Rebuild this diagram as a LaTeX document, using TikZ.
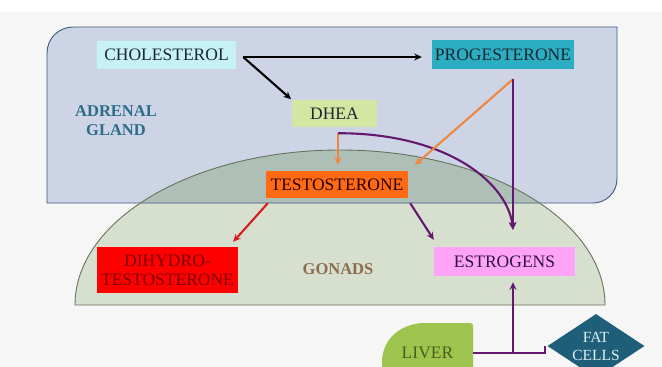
\documentclass[tikz,border=0pt]{standalone}
\usepackage{fontspec}
\setmainfont{Liberation Serif}
\usetikzlibrary{shapes.geometric,arrows.meta}
\definecolor{bgc}{HTML}{F6F6F6}
\definecolor{adrfill}{HTML}{CCD4E6}
\definecolor{adrline}{HTML}{3D5C82}
\definecolor{domefill}{HTML}{D7E0CF}
\definecolor{domeline}{HTML}{66745A}
\definecolor{overlapc}{HTML}{ADBFB7}
\definecolor{cholc}{HTML}{C6F1F6}
\definecolor{progc}{HTML}{2BAEC1}
\definecolor{dheac}{HTML}{D5E6A2}
\definecolor{testoc}{HTML}{FF6A12}
\definecolor{estroc}{HTML}{FFA3F7}
\definecolor{liverc}{HTML}{9DC44C}
\definecolor{fatc}{HTML}{1E5E78}
\definecolor{darktxt}{HTML}{1C2630}
\definecolor{adrt}{HTML}{2F6C8A}
\definecolor{gont}{HTML}{8C6C4E}
\definecolor{dhtt}{HTML}{7A0000}
\definecolor{estrot}{HTML}{2E1242}
\definecolor{livert}{HTML}{4B5E1C}
\definecolor{fatt}{HTML}{DDEFF4}
\definecolor{purc}{HTML}{64196F}
\definecolor{orgc}{HTML}{F0873E}
\definecolor{redc}{HTML}{D41E1E}
\newcommand{\adrenalpath}{(47,203) -- (47,53) .. controls (47,38.6) and (58.6,27) .. (73,27) -- (617,27) -- (617,179) .. controls (617,192.3) and (606.3,203) .. (593,203) -- cycle}
\newcommand{\domepath}{(75,305) .. controls (75,219.4) and (193.6,150) .. (340,150) .. controls (486.4,150) and (605,219.4) .. (605,305) -- cycle}
\begin{document}
\begin{tikzpicture}[x=1pt,y=-1pt,
  box/.style={rectangle, inner sep=0pt, align=center, font=\fontsize{17.5}{19}\selectfont, text=darktxt},
  conn/.style={line width=2.1pt, -{Stealth[length=7.5pt,width=7pt]}},
  blk/.style={conn, black},
  pur/.style={conn, purc},
  org/.style={conn, orgc},
  rdc/.style={conn, redc}]
\useasboundingbox (0,0) rectangle (662,367);
\clip (0,0) rectangle (662,367);
\fill[white] (0,0) rectangle (662,367);
\fill[bgc] (0,12) rectangle (662,367);
% adrenal gland and gonads
\fill[adrfill] \adrenalpath;
\fill[domefill] \domepath;
\begin{scope}
  \clip \adrenalpath;
  \fill[overlapc] \domepath;
\end{scope}
\draw[adrline, line width=0.9pt] \adrenalpath;
\draw[domeline, line width=0.9pt] \domepath;
% labels
\node[font=\bfseries\fontsize{16.5}{19}\selectfont, text=adrt, align=center] (adr) at (116,121) {ADRENAL\\GLAND};
\node[font=\bfseries\fontsize{16.5}{19}\selectfont, text=gont] (gon) at (338,269) {GONADS};
% boxes
\node[box, fill=cholc, minimum width=139pt, minimum height=28pt] (chol) at (166.5,55) {CHOLESTEROL};
\node[box, fill=progc, minimum width=142pt, minimum height=29pt] (prog) at (503,54.5) {PROGESTERONE};
\node[box, fill=dheac, minimum width=85pt, minimum height=27pt] (dhea) at (334.5,113.5) {DHEA};
\node[box, fill=testoc, text=black!85!red, minimum width=142pt, minimum height=27pt] (testo) at (337,184.5) {TESTOSTERONE};
\node[box, fill=red, text=dhtt, minimum width=141pt, minimum height=46pt] (dht) at (167.5,270) {DIHYDRO-\\TESTOSTERONE};
\node[box, fill=estroc, text=estrot, minimum width=141pt, minimum height=29pt] (estro) at (504.5,261.5) {ESTROGENS};
% liver
\fill[liverc] (473,380) -- (473,326) .. controls (473,324) and (472,323) .. (470,323) -- (425,323) .. controls (400,323) and (382,340) .. (382,362) -- (382,380) -- cycle;
\node[box, text=livert, minimum width=91pt, minimum height=60pt] (liver) at (427.5,353) {LIVER};
% fat cells
\node[diamond, aspect=1.5, fill=fatc, text=fatt, inner sep=0pt, minimum width=97pt, minimum height=64pt, align=center, font=\fontsize{15.5}{18}\selectfont] (fat) at (596,346) {FAT\\CELLS};
% junction points
\coordinate (split) at ([xshift=7pt,yshift=-2pt]chol.east);
\coordinate (dj) at ([xshift=3.5pt,yshift=-6pt]dhea.south);
\coordinate (pj) at ([xshift=10pt,yshift=-10pt]prog.south);
\coordinate (econv) at ([xshift=8.5pt,yshift=17pt]estro.north);
\coordinate (lj) at (econv |- liver.east);
% connectors
\draw[blk, shorten >=10pt] (split) -- (split -| prog.west);
\draw[blk, shorten >=1pt] (split) -- (dhea.north west);
\draw[org, shorten >=6pt] (dj) -- (dj |- testo.north);
\draw[pur] (dj) .. controls ([xshift=112pt]dj) and ([xshift=-5pt,yshift=45pt]econv) .. (econv);
\draw[org, shorten >=9pt] (pj) -- (testo.north east);
\draw[pur] (pj) -- (econv);
\draw[rdc] ([xshift=2pt,yshift=-5pt]testo.south west) -- ([xshift=-5pt,yshift=5pt]dht.north east);
\draw[pur] ([xshift=2pt,yshift=-5pt]testo.south east) -- ([yshift=7pt]estro.north west);
\draw[purc, line width=2.1pt] (liver.east) -| ([xshift=-2pt]fat.west);
\draw[pur, shorten >=6pt] (lj) -- (lj |- estro.south);
\end{tikzpicture}
\end{document}
